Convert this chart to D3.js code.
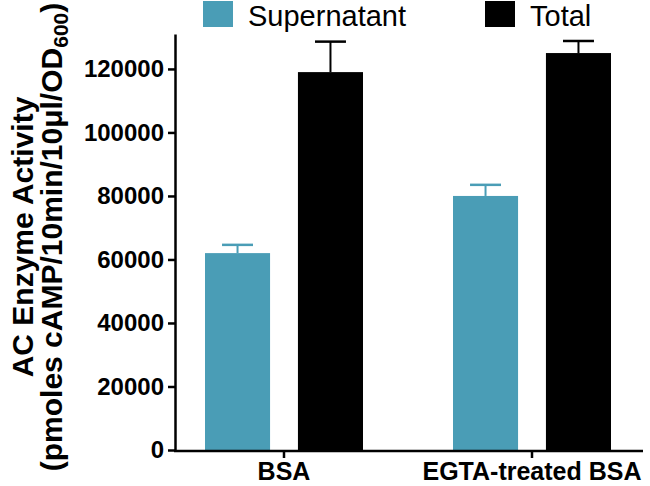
<html lang="en">

<head>
    <meta charset="utf-8">
    <title>AC Enzyme Activity</title>
    <style>
        body {
            margin: 0;
            background: white;
        }

        svg {
            display: block;
            font-family: Arial, "Liberation Sans", sans-serif;
        }

        .axis path,
        .axis line {
            fill: none;
            stroke: black;
            stroke-width: 2.5px;
        }

        .axis text {
            font-size: 24px;
            font-weight: bold;
            fill: black;
        }
    </style>
</head>

<body>
    <script src="https://d3js.org/d3.v7.min.js"></script>

    <div id="chart"></div>

    <script type="text/javascript">
        // data
        var groups = ["BSA", "EGTA-treated BSA"];
        var seriesNames = ["Supernatant", "Total"];
        var seriesColors = ["#4a9db6", "#000000"];
        var supernatantMean = [62000, 80000];
        var supernatantErr = [2600, 3500];
        var totalMean = [119000, 125000];
        var totalErr = [9600, 3800];
        var yTicks = [0, 20000, 40000, 60000, 80000, 100000, 120000];

        var width = 650;
        var height = 486;

        var svg = d3.select("#chart").append("svg")
            .attr("width", width)
            .attr("height", height);

        // build rows from the arrays
        var rows = [];
        for (var i = 0; i < groups.length; i++) {
            rows.push({ group: groups[i], series: seriesNames[0], value: supernatantMean[i], err: supernatantErr[i] });
            rows.push({ group: groups[i], series: seriesNames[1], value: totalMean[i], err: totalErr[i] });
        }

        var x0 = d3.scaleBand()
            .domain(groups)
            .range([160, 656])
            .padding(0);

        var x1 = d3.scaleBand()
            .domain(seriesNames)
            .range([45, 203])
            .paddingInner(0.3)
            .paddingOuter(0);

        var y = d3.scaleLinear()
            .domain([0, 131000])
            .range([450, 34]);

        var color = d3.scaleOrdinal()
            .domain(seriesNames)
            .range(seriesColors);

        // bars
        svg.selectAll("rect.bar")
            .data(rows)
            .enter()
            .append("rect")
            .attr("class", "bar")
            .attr("x", function(d) { return x0(d.group) + x1(d.series); })
            .attr("y", function(d) { return y(d.value); })
            .attr("width", x1.bandwidth())
            .attr("height", function(d) { return y(0) - y(d.value); })
            .style("fill", function(d) { return color(d.series); });

        // error bars (upper only)
        var capW = 31;
        var err = svg.selectAll("g.err")
            .data(rows)
            .enter()
            .append("g")
            .attr("class", "err")
            .style("stroke", function(d) { return color(d.series); });

        err.append("line")
            .attr("x1", function(d) { return x0(d.group) + x1(d.series) + x1.bandwidth() / 2; })
            .attr("x2", function(d) { return x0(d.group) + x1(d.series) + x1.bandwidth() / 2; })
            .attr("y1", function(d) { return y(d.value); })
            .attr("y2", function(d) { return y(d.value + d.err); })
            .attr("stroke-width", 2);

        err.append("line")
            .attr("x1", function(d) { return x0(d.group) + x1(d.series) + x1.bandwidth() / 2 - capW / 2; })
            .attr("x2", function(d) { return x0(d.group) + x1(d.series) + x1.bandwidth() / 2 + capW / 2; })
            .attr("y1", function(d) { return y(d.value + d.err); })
            .attr("y2", function(d) { return y(d.value + d.err); })
            .attr("stroke-width", 2.5);

        // y axis
        var yAxis = d3.axisLeft(y)
            .tickValues(yTicks)
            .tickFormat(d3.format("d"))
            .tickSize(7)
            .tickSizeOuter(0)
            .tickPadding(4);

        svg.append("g")
            .attr("class", "axis")
            .attr("transform", "translate(175,0)")
            .call(yAxis);

        // x axis
        var xAxis = d3.axisBottom(x0)
            .tickSize(7)
            .tickSizeOuter(0)
            .tickPadding(4);

        var gx = svg.append("g")
            .attr("class", "axis")
            .attr("transform", "translate(0,451)")
            .call(xAxis);
        gx.select(".domain").remove();
        gx.append("line")
            .attr("x1", 174)
            .attr("x2", 643)
            .attr("y1", 0)
            .attr("y2", 0);
        gx.selectAll(".tick text")
            .style("font-size", "25px")
            .attr("dy", "0.72em");

        // y title
        var title = svg.append("text")
            .attr("transform", "translate(0,237) rotate(-90)")
            .attr("text-anchor", "middle")
            .style("font-weight", "bold")
            .style("font-size", "30px");

        title.append("tspan")
            .attr("x", 0)
            .attr("y", 33)
            .text("AC Enzyme Activity");

        title.append("tspan")
            .attr("x", 0)
            .attr("y", 62)
            .text("(pmoles cAMP/10min/10μl/OD");
        title.append("tspan")
            .attr("dy", 6)
            .style("font-size", "21px")
            .text("600");
        title.append("tspan")
            .attr("dy", -6)
            .text(")");

        // legend
        var legend = svg.selectAll("g.legend")
            .data(seriesNames)
            .enter()
            .append("g")
            .attr("class", "legend")
            .attr("transform", function(d, i) { return "translate(" + [203, 485][i] + ",1)"; });

        legend.append("rect")
            .attr("width", 30)
            .attr("height", 26)
            .style("fill", function(d) { return color(d); });

        legend.append("text")
            .attr("x", 45)
            .attr("y", 25)
            .style("font-size", "29px")
            .text(function(d) { return d; });
    </script>
</body>

</html>
